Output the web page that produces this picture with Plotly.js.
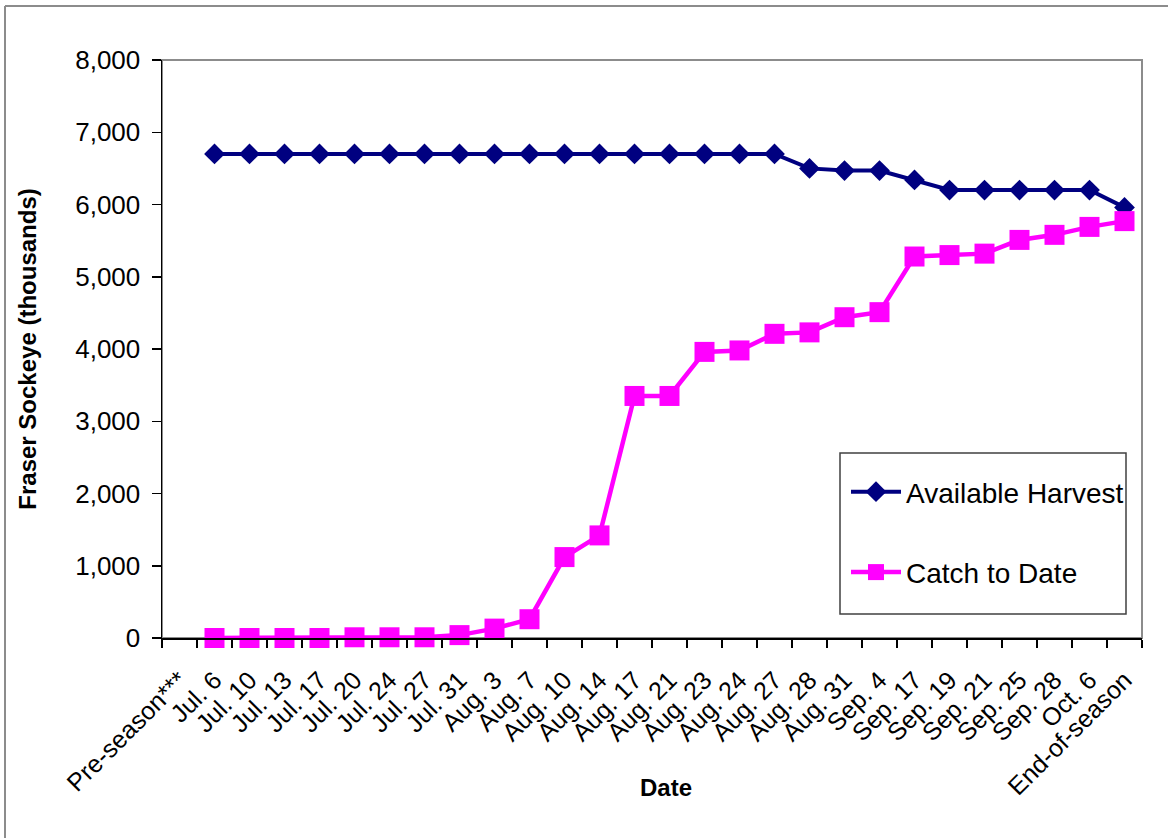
<!DOCTYPE html>
<html>
<head>
<meta charset="utf-8">
<script src="https://cdn.plot.ly/plotly-3.0.1.min.js"></script>
<style>
  html, body { margin: 0; padding: 0; background: #ffffff; }
  #chart { width: 1168px; height: 838px; }
</style>
</head>
<body>
<div id="chart"></div>
<script>
const categories = ["Pre-season***", "Jul. 6", "Jul. 10", "Jul. 13", "Jul. 17", "Jul. 20", "Jul. 24",
  "Jul. 27", "Jul. 31", "Aug. 3", "Aug. 7", "Aug. 10", "Aug. 14", "Aug. 17", "Aug. 21", "Aug. 23",
  "Aug. 24", "Aug. 27", "Aug. 28", "Aug. 31", "Sep. 4", "Sep. 17", "Sep. 19", "Sep. 21", "Sep. 25",
  "Sep. 28", "Oct. 6", "End-of-season"];

const availableHarvest = [null, 6700, 6700, 6700, 6700, 6700, 6700, 6700, 6700, 6700, 6700, 6700,
  6700, 6700, 6700, 6700, 6700, 6700, 6500, 6470, 6470, 6340, 6200, 6200, 6200, 6200, 6200, 5960];

const catchToDate = [null, 0, 0, 0, 0, 10, 10, 10, 40, 130, 260, 1120, 1420, 3350, 3350, 3960,
  3980, 4210, 4230, 4440, 4510, 5280, 5300, 5320, 5510, 5580, 5690, 5770];

const seriesNames = ["Available Harvest", "Catch to Date"];
const yTicks = [0, 1000, 2000, 3000, 4000, 5000, 6000, 7000, 8000];
const xTitle = "Date";
const yTitle = "Fraser Sockeye (thousands)";

const FONT = "Liberation Sans, Arial, sans-serif";

const traces = [
  {
    x: categories, y: availableHarvest, name: seriesNames[0], type: "scatter", mode: "lines+markers",
    line: { color: "#000080", width: 4 },
    marker: { symbol: "diamond", size: 16, color: "#000080" },
    legendgroup: "a", cliponaxis: false
  },
  {
    x: categories, y: catchToDate, name: seriesNames[1], type: "scatter", mode: "lines+markers",
    line: { color: "#FF00FF", width: 4.5 },
    marker: { symbol: "square", size: 20, color: "#FF00FF" },
    legendgroup: "b", cliponaxis: false
  }
];

// pixel helpers for paper coords (plot area: x 162..1142, y 60..638)
const L = 162, R = 1142, T = 60, B = 638;
const px = v => (v - L) / (R - L);
const py = v => (B - v) / (B - T);

const layout = {
  width: 1168, height: 838,
  margin: { l: L, r: 1168 - R, t: T, b: 838 - B },
  paper_bgcolor: "#ffffff", plot_bgcolor: "#ffffff",
  font: { family: FONT, color: "#000000", size: 24 },
  showlegend: true,
  legend: {
    x: px(846), xanchor: "left", y: py(467), yanchor: "top",
    bgcolor: "rgba(0,0,0,0)", borderwidth: 0,
    font: { family: FONT, size: 28, color: "#000000" },
    tracegroupgap: 41, itemwidth: 50
  },
  xaxis: {
    type: "category", categoryorder: "array", categoryarray: categories,
    range: [-0.5, categories.length - 0.5],
    tickangle: -45, tickson: "boundaries", ticks: "outside", ticklen: 8, tickwidth: 1.5, tickcolor: "#000",
    showline: true, linecolor: "#000", linewidth: 1.5, showgrid: false, zeroline: false,
    tickfont: { family: FONT, size: 25, color: "#000" }, ticklabelstandoff: 16,
    automargin: false, fixedrange: true
  },
  yaxis: {
    range: [0, 8000], tickvals: yTicks, tickformat: ",d",
    ticks: "outside", ticklen: 9, tickwidth: 1.5, tickcolor: "#000",
    showline: true, linecolor: "#000", linewidth: 1.5, showgrid: false, zeroline: false,
    tickfont: { family: FONT, size: 26, color: "#000" }, ticklabelstandoff: 6,
    title: { text: "<b>" + yTitle + "</b>", font: { family: FONT, size: 24, color: "#000" }, standoff: 32 },
    automargin: false, fixedrange: true
  },
  annotations: [
    { text: "<b>" + xTitle + "</b>", xref: "paper", yref: "paper", x: px(666), y: py(787),
      xanchor: "center", yanchor: "middle", showarrow: false,
      font: { family: FONT, size: 24, color: "#000" } }
  ],
  shapes: [
    // plot area frame (grey top/right)
    { type: "rect", xref: "paper", yref: "paper", x0: 0, x1: 1, y0: 0, y1: 1,
      line: { color: "#8c8c8c", width: 2 }, layer: "below" },
    // legend box
    { type: "rect", xref: "paper", yref: "paper", x0: px(840), x1: px(1126), y0: py(614), y1: py(453),
      line: { color: "#404040", width: 1.5 }, fillcolor: "rgba(0,0,0,0)", layer: "above" },
    // outer chart frame (top and left edges)
    { type: "line", xref: "paper", yref: "paper", x0: px(5), x1: px(1175), y0: py(6), y1: py(6),
      line: { color: "#8c8c8c", width: 2 } },
    { type: "line", xref: "paper", yref: "paper", x0: px(5), x1: px(5), y0: py(6), y1: py(845),
      line: { color: "#8c8c8c", width: 2 } }
  ]
};

Plotly.newPlot("chart", traces, layout, { displayModeBar: false, staticPlot: true });
</script>
</body>
</html>
